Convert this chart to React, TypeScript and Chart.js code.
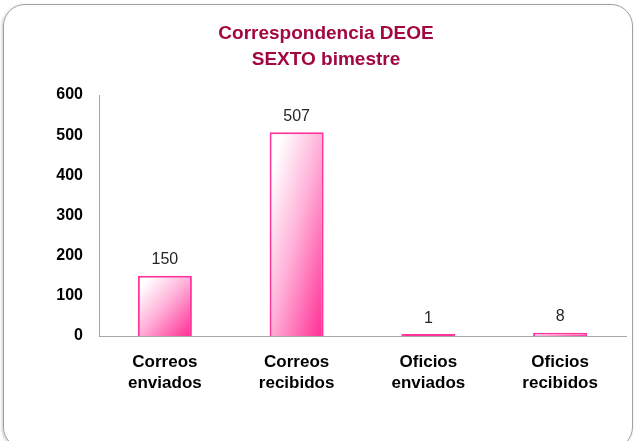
import React, { useEffect, useRef } from "react";
import { Chart, registerables } from "chart.js";

Chart.register(...registerables);

const categories: string[][] = [
  ["Correos", "enviados"],
  ["Correos", "recibidos"],
  ["Oficios", "enviados"],
  ["Oficios", "recibidos"],
];
const values: number[] = [150, 507, 1, 8];
const titleLines: string[] = ["Correspondencia DEOE", "SEXTO bimestre"];
const yMax = 600;
const yStep = 100;

const BAR_PCT = 0.41;
const FONT = "'Liberation Sans', Arial, sans-serif";

export default function App() {
  const ref = useRef<HTMLCanvasElement | null>(null);

  useEffect(() => {
    if (!ref.current) return;

    const gradientFill = (c: any) => {
      const chart = c.chart;
      if (!chart.chartArea || c.dataIndex === undefined) return "#ff3399";
      const xs = chart.scales.x;
      const ys = chart.scales.y;
      const idx = c.dataIndex;
      const v = values[idx];
      const cx = xs.getPixelForValue(idx);
      const w = (xs.width / categories.length) * BAR_PCT;
      const left = cx - w / 2;
      const top = ys.getPixelForValue(v);
      const bottom = ys.getPixelForValue(0);
      const h = bottom - top;
      if (h < 2) return "#ff3399";
      const k = (2 * w * h) / (h * h + w * w);
      const g = chart.ctx.createLinearGradient(left, top, left + h * k, top + w * k);
      g.addColorStop(0, "#ffffff");
      g.addColorStop(0.12, "#ffffff");
      g.addColorStop(0.5, "#ffb0d8");
      g.addColorStop(1, "#ff2a92");
      return g;
    };

    const labelPlugin = {
      id: "valueLabels",
      afterDatasetsDraw(chart: any) {
        const ctx = chart.ctx;
        const meta = chart.getDatasetMeta(0);
        ctx.save();
        ctx.font = `16px ${FONT}`;
        ctx.fillStyle = "#262626";
        ctx.textAlign = "center";
        ctx.textBaseline = "alphabetic";
        meta.data.forEach((el: any, i: number) => {
          ctx.fillText(String(values[i]), el.x, el.y - 11.5);
        });
        ctx.restore();
      },
    };

    const chart = new Chart(ref.current, {
      type: "bar",
      data: {
        labels: categories,
        datasets: [
          {
            data: values,
            backgroundColor: gradientFill,
            borderColor: "#ff3399",
            borderWidth: 2,
            minBarLength: 2,
            barPercentage: BAR_PCT,
            categoryPercentage: 1,
          },
        ],
      },
      options: {
        animation: false,
        responsive: false,
        maintainAspectRatio: false,
        layout: { padding: { left: 26, right: 9, top: 8, bottom: 0 } },
        plugins: {
          legend: { display: false },
          tooltip: { enabled: false },
          title: {
            display: true,
            text: titleLines,
            color: "#a3073f",
            font: { family: FONT, size: 19, weight: "bold", lineHeight: 26.5 / 19 },
            padding: { top: 12.25, bottom: 21.75 },
          },
        },
        scales: {
          x: {
            grid: { display: false, drawTicks: false },
            border: { display: true, color: "#a6a6a6", width: 1 },
            ticks: {
              color: "#000000",
              font: { family: FONT, size: 17, weight: "bold", lineHeight: 21 / 17 },
              padding: 15.5,
              maxRotation: 0,
              autoSkip: false,
            },
            afterFit: (s: any) => {
              s.height = 105;
            },
          },
          y: {
            min: 0,
            max: yMax,
            grid: { display: false, drawTicks: false },
            border: { display: true, color: "#a6a6a6", width: 1 },
            ticks: {
              stepSize: yStep,
              color: "#000000",
              font: { family: FONT, size: 16, weight: "bold" },
              padding: 16,
            },
            afterFit: (s: any) => {
              s.width = 73;
            },
          },
        },
      },
      plugins: [labelPlugin],
    });

    return () => chart.destroy();
  }, []);

  return (
    <div style={{ position: "relative", width: 635, height: 441, overflow: "hidden", background: "#ffffff" }}>
      <style>{`body{margin:0;}`}</style>
      <div
        style={{
          position: "absolute",
          left: 3,
          top: 4,
          width: 630,
          height: 445,
          border: "1px solid #a0a0a0",
          borderRadius: 22,
          boxShadow: "-1px 1px 3px rgba(0,0,0,0.22)",
          boxSizing: "border-box",
        }}
      />
      <canvas ref={ref} width={635} height={441} style={{ position: "absolute", left: 0, top: 0 }} />
    </div>
  );
}
